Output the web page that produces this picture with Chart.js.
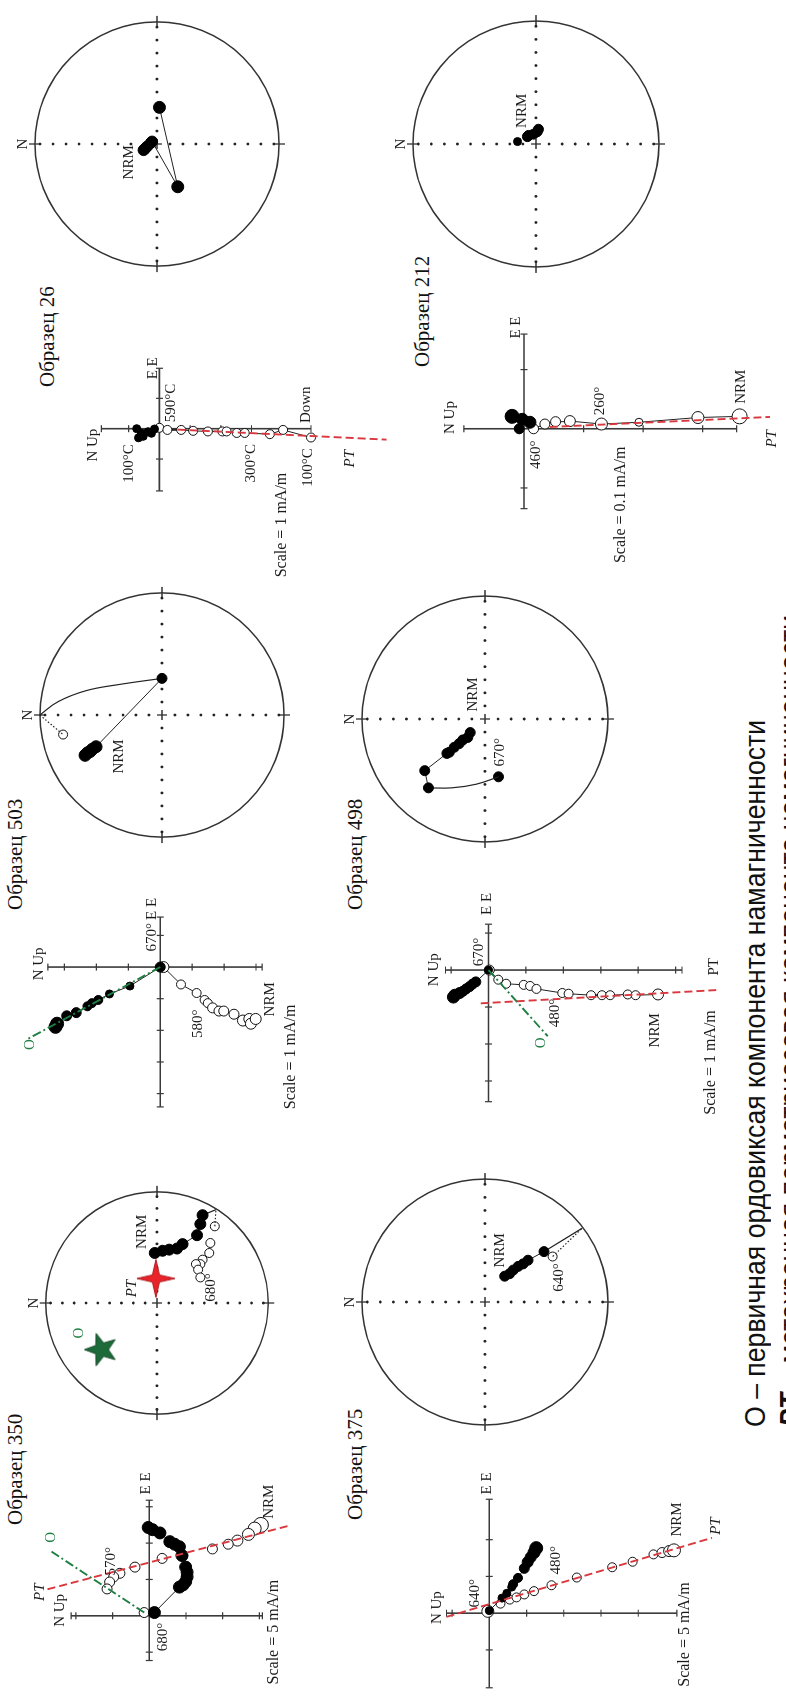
<!DOCTYPE html>
<html>
<head>
<meta charset="utf-8">
<script src="https://cdn.jsdelivr.net/npm/chart.js@4.4.0/dist/chart.umd.min.js"></script>
<style>
html, body { margin: 0; padding: 0; width: 786px; height: 1697px; overflow: hidden; background: #fff; }
#page { position: absolute; left: 0; top: 0; width: 1697px; height: 786px; overflow: hidden; background: #fff;
        transform-origin: 0 0; transform: translate(0, 1697px) rotate(-90deg); }
.title { position: absolute; font: 21px "Liberation Serif"; line-height: 21px; white-space: nowrap; color: #111; }
.cap { position: absolute; left: 270px; font: 30px "Liberation Sans"; line-height: 30px; white-space: nowrap; color: #111; transform-origin: 0 0; }
canvas { position: absolute; }
</style>
</head>
<body>
<div id="page">
  <div class="title" style="left:172px;top:5px">Образец 350</div>
  <div class="title" style="left:787px;top:5px">Образец 503</div>
  <div class="title" style="left:1310px;top:37px">Образец 26</div>
  <div class="title" style="left:177px;top:345px">Образец 375</div>
  <div class="title" style="left:787px;top:345px">Образец 498</div>
  <div class="title" style="left:1330px;top:412px">Образец 212</div>
  <div class="cap" id="cap1" style="top:740px">O – первичная ордовиксая компонента намагниченности</div>
  <div class="cap" id="cap2" style="top:775px"><b><i>PT</i></b> – метахронная пермотриасовая компонента намагниченности</div>
</div>
<script>
// ================= Data =================
// Zijderveld diagrams: [E, N/Up] in tick units; filled = horizontal, open = vertical projection

// ---------- Образец 350 ----------
const z350Filled = [[2.43,0.03],[2.37,-0.09],[2.28,-0.29],[2.04,-0.56],[1.97,-0.69],[1.9,-0.82],[1.66,-0.89],[1.34,-0.99],[1.2,-1.03],[1.07,-1.03],[0.94,-0.99],[0.85,-0.92],[0.79,-0.82],[0.09,-0.14]];
const z350Open = [[2.5,-3.04],[2.4,-2.87],[2.24,-2.7],[2.07,-2.4],[1.97,-2.15],[1.84,-1.72],[1.64,-0.91],[1.58,-0.35],[1.34,0.39],[1.17,0.8],[1.07,0.97],[0.93,1.08],[0.74,1.15],[0.09,0.14]];
const z350PT = [[0.73,2.77],[2.47,-3.77]];
const z350O = [[0.09,0.14],[1.81,2.73]];

// ---------- Образец 503 ----------
const z503Filled = [[0,0],[-0.6,0.95],[-0.85,1.59],[-1.04,1.94],[-1.14,2.14],[-1.24,2.28],[-1.44,2.63],[-1.54,2.93],[-1.79,3.23],[-1.89,3.28]];
const z503Open = [[0,-0.1],[-0.55,-0.65],[-0.82,-1.14],[-1.04,-1.39],[-1.14,-1.49],[-1.29,-1.64],[-1.39,-1.84],[-1.39,-1.99],[-1.49,-2.31],[-1.69,-2.59],[-1.64,-2.79],[-1.79,-2.84],[-1.64,-2.99]];
const z503O = [[0,0],[-2.29,4.18]];

// ---------- Образец 26 ----------
const z26Filled = [[-0.01,0.16],[-0.15,0.26],[-0.1,0.37],[-0.25,0.53],[-0.15,0.58],[-0.3,0.68],[0,0.74]];
const z26Open = [[0.03,0],[-0.04,-0.26],[-0.04,-0.71],[-0.07,-1.1],[-0.09,-1.58],[-0.09,-2.05],[-0.09,-2.19],[-0.14,-2.52],[-0.14,-2.78],[-0.18,-3.6],[-0.04,-4.03],[-0.29,-4.94]];
const z26PT = [[-0.03,-0.6],[-0.36,-7.4]];

// ---------- Образец 375 ----------
const z375Filled = [[0.07,0],[0.41,-0.34],[0.54,-0.47],[0.71,-0.6],[0.79,-0.64],[0.96,-0.77],[1.22,-0.94],[1.39,-1.03],[1.52,-1.11],[1.65,-1.2],[1.77,-1.26]];
const z375Open = [[0.05,0.04],[0.26,-0.3],[0.37,-0.55],[0.43,-0.73],[0.51,-0.94],[0.6,-1.2],[0.76,-1.67],[0.97,-2.35],[1.25,-3.3],[1.4,-3.85],[1.6,-4.41],[1.65,-4.64],[1.69,-4.83],[1.71,-4.96]];
const z375PT = [[-0.1,1.15],[2.05,-5.98]];

// ---------- Образец 498 ----------
const z498Filled = [[0,0],[-0.32,0.34],[-0.38,0.43],[-0.45,0.51],[-0.51,0.6],[-0.57,0.68],[-0.62,0.77],[-0.68,0.9],[-0.73,0.94]];
const z498Open = [[0,-0.02],[-0.26,-0.26],[-0.37,-0.47],[-0.4,-0.94],[-0.43,-1.11],[-0.51,-1.28],[-0.62,-1.97],[-0.64,-2.14],[-0.68,-2.74],[-0.68,-3.03],[-0.68,-3.25],[-0.66,-3.72],[-0.68,-3.93],[-0.66,-4.53]];
const z498PT = [[-0.9,0.21],[-0.54,-6.11]];
const z498O = [[0,0],[-1.79,-1.58]];

// ---------- Образец 212 ----------
const z212Filled = [[0.21,0.2],[0.16,0.03],[0.11,-0.1],[0,0.08]];
const z212Open = [[0.21,-3.62],[0.19,-2.92],[0.11,-1.93],[0.08,-1.3],[0.13,-0.77],[0.12,-0.53],[0.08,-0.35],[0,-0.16]];
const z212PT = [[0.03,-0.43],[0.2,-4.13]];

// Stereonets: equal-area projection, [E, N] with net radius = 1
const st350Filled = [[0.45,0.02],[0.47,-0.05],[0.48,-0.11],[0.49,-0.18],[0.53,-0.23],[0.61,-0.36],[0.71,-0.39],[0.79,-0.41]];
const st350Open = [[0.69,-0.52],[0.54,-0.48],[0.45,-0.47],[0.39,-0.41],[0.35,-0.39],[0.35,-0.35],[0.3,-0.37],[0.23,-0.39]];
const st350Edge = [0.84,-0.53];
const st350PT = [0.22,0.01];
const st350O = [-0.42,0.5];

const st503Nrm = [[-0.33,0.63],[-0.31,0.61],[-0.3,0.59],[-0.28,0.57],[-0.26,0.54],[0.3,0]];
const st503Arc = [[0.3,0],[0.25,0.35],[0.2,0.62],[0.11,0.85],[0,1]];
const st503Open = [-0.16,0.81];

const st26Filled = [[-0.05,0.11],[-0.04,0.1],[-0.02,0.08],[0.01,0.05],[0.02,0.04],[-0.35,-0.17],[0.3,-0.02]];

const st212Filled = [[0.02,0.15],[0.06,0.07],[0.07,0.06],[0.08,0.02],[0.1,-0.01],[0.12,-0.02]];

const st498Filled = [[-0.11,0.12],[-0.15,0.14],[-0.17,0.18],[-0.2,0.21],[-0.23,0.25],[-0.27,0.29],[-0.28,0.31],[-0.42,0.49],[-0.56,0.46]];
const st498Arc = [[-0.56,0.46],[-0.56,0.27],[-0.53,0.07],[-0.47,-0.11]];
const st498Last = [-0.47,-0.11];

const st375Filled = [[0.21,-0.16],[0.23,-0.2],[0.26,-0.23],[0.29,-0.27],[0.31,-0.31],[0.34,-0.35],[0.41,-0.48]];
const st375Open = [0.37,-0.55];
const st375Edge = [0.6,-0.79];

// ================= Helpers =================
const RED = '#d8383e', GREEN = '#1f7f43', INK = '#1a1a1a';
const page = document.getElementById('page');
const pts = a => a.map(p => ({ x: p[0], y: p[1] }));

function place(left, top, w, h) {
  const c = document.createElement('canvas');
  c.width = w; c.height = h;
  c.style.left = left + 'px'; c.style.top = top + 'px';
  c.style.width = w + 'px'; c.style.height = h + 'px';
  page.appendChild(c);
  return c;
}

const filled = (d, r, line = true) => ({ data: pts(d), showLine: line, borderColor: '#222', borderWidth: 1,
  pointRadius: r, pointBackgroundColor: '#000', pointBorderColor: '#000', pointBorderWidth: 1 });
const open = (d, r, line = false) => ({ data: pts(d), showLine: line, borderColor: '#222', borderWidth: 1,
  pointRadius: r, pointBackgroundColor: '#fff', pointBorderColor: '#111', pointBorderWidth: 1 });
const dash = (d, color, pattern, w = 1.9) => ({ data: pts(d), showLine: true, borderColor: color, borderWidth: w,
  borderDash: pattern, pointRadius: 0 });
const arc = (d, pattern = []) => ({ data: pts(d), showLine: true, borderColor: '#222', borderWidth: 1.2,
  borderDash: pattern, tension: 0.4, pointRadius: 0 });

function labelPlugin(list) {
  return {
    id: 'labels',
    afterDatasetsDraw(chart) {
      const { ctx, scales: { x, y } } = chart;
      ctx.save();
      list.forEach(([text, u, v, st = {}]) => {
        ctx.font = (st.italic ? 'italic ' : '') + (st.size || 15) + 'px "Liberation Serif"';
        ctx.fillStyle = st.color || INK;
        ctx.textAlign = st.align || 'center';
        ctx.textBaseline = 'middle';
        ctx.fillText(text, x.getPixelForValue(u), y.getPixelForValue(v));
      });
      ctx.restore();
    }
  };
}

function axesPlugin(ax) {
  return {
    id: 'zaxes',
    beforeDatasetsDraw(chart) {
      const { ctx, scales: { x, y } } = chart;
      const X = v => x.getPixelForValue(v), Y = v => y.getPixelForValue(v);
      ctx.save();
      ctx.strokeStyle = '#3a3a3a'; ctx.lineWidth = 1.6;
      ctx.beginPath();
      ctx.moveTo(X(ax.h[0]), Y(0)); ctx.lineTo(X(ax.h[1]), Y(0));
      ctx.moveTo(X(0), Y(ax.v[0])); ctx.lineTo(X(0), Y(ax.v[1]));
      ctx.stroke();
      ctx.lineWidth = 1.2;
      ctx.beginPath();
      ax.h.concat(ax.ht).forEach(t => { ctx.moveTo(X(t), Y(0) - 3.5); ctx.lineTo(X(t), Y(0) + 3.5); });
      ax.v.concat(ax.vt).forEach(t => { ctx.moveTo(X(0) - 3.5, Y(t)); ctx.lineTo(X(0) + 3.5, Y(t)); });
      ctx.stroke();
      ctx.restore();
    }
  };
}

const netPlugin = {
  id: 'net',
  beforeDatasetsDraw(chart) {
    const { ctx, scales: { x, y } } = chart;
    const cx = x.getPixelForValue(0), cy = y.getPixelForValue(0);
    const r = x.getPixelForValue(1) - cx;
    ctx.save();
    ctx.strokeStyle = '#333'; ctx.lineWidth = 1.5;
    ctx.beginPath(); ctx.arc(cx, cy, r, 0, 2 * Math.PI); ctx.stroke();
    ctx.lineWidth = 1.3;
    ctx.beginPath();
    ctx.moveTo(cx, cy - r - 6); ctx.lineTo(cx, cy - r + 6);
    ctx.moveTo(cx, cy + r - 6); ctx.lineTo(cx, cy + r + 6);
    ctx.moveTo(cx - r - 6, cy); ctx.lineTo(cx - r + 6, cy);
    ctx.moveTo(cx + r - 6, cy); ctx.lineTo(cx + r + 6, cy);
    ctx.moveTo(cx - 5, cy); ctx.lineTo(cx + 5, cy);
    ctx.moveTo(cx, cy - 5); ctx.lineTo(cx, cy + 5);
    ctx.stroke();
    ctx.fillStyle = '#222';
    for (let k = 1; k <= 9; k++) {
      const d = k * r / 9.4;
      [[d, 0], [-d, 0], [0, d], [0, -d]].forEach(([dx, dy]) => {
        ctx.beginPath(); ctx.arc(cx + dx, cy + dy, 1.4, 0, 2 * Math.PI); ctx.fill();
      });
    }
    ctx.font = '15px "Liberation Serif"';
    ctx.fillStyle = INK; ctx.textAlign = 'center'; ctx.textBaseline = 'middle';
    ctx.fillText('N', cx, cy - r - 12);
    ctx.restore();
  }
};

function baseOptions(xmin, xmax, ymin, ymax) {
  return {
    responsive: false, animation: false, events: [],
    layout: { padding: 0 },
    plugins: { legend: { display: false }, tooltip: { enabled: false } },
    scales: {
      x: { type: 'linear', display: false, min: xmin, max: xmax },
      y: { type: 'linear', display: false, min: ymin, max: ymax }
    }
  };
}

function zijd(g, axes, sets, labels) {
  const c = place(g.left, g.top, g.w, g.h);
  new Chart(c, {
    type: 'scatter',
    data: { datasets: sets },
    options: baseOptions((g.left - g.ox) / g.unit, (g.left + g.w - g.ox) / g.unit,
                         (g.oy - g.top - g.h) / g.unit, (g.oy - g.top) / g.unit),
    plugins: [axesPlugin(axes), labelPlugin(labels)]
  });
}

function stereo(cx, cy, sets, labels) {
  const R = 128, half = 152;
  const c = place(cx - half, cy - half, 2 * half, 2 * half);
  new Chart(c, {
    type: 'scatter',
    data: { datasets: sets },
    options: baseOptions(-half / R, half / R, -half / R, half / R),
    plugins: [netPlugin, labelPlugin(labels)]
  });
}

function star(n, outer, inner, fill, stroke) {
  const s = Math.ceil(outer * 2 + 4);
  const c = document.createElement('canvas');
  c.width = c.height = s;
  const g = c.getContext('2d');
  g.beginPath();
  for (let i = 0; i < 2 * n; i++) {
    const r = i % 2 ? inner : outer;
    const a = -Math.PI / 2 + i * Math.PI / n;
    g.lineTo(s / 2 + r * Math.cos(a), s / 2 + r * Math.sin(a));
  }
  g.closePath();
  g.fillStyle = fill; g.fill();
  g.strokeStyle = stroke; g.lineWidth = 1; g.stroke();
  return c;
}

// ================= Zijderveld diagrams =================
zijd({ left: 0, top: 25, w: 250, h: 290, ox: 78, oy: 148, unit: 39 },
  { h: [-1.23, 3.18], v: [-3.08, 2.13], ht: [-1, 1, 2, 3], vt: [-3, -2, -1, 1, 2] },
  [dash(z350PT, RED, [8, 4]), dash(z350O, GREEN, [9, 3, 2, 3]),
   filled(z350Filled, 6), open(z350Open, [7.5, 6.5, 6, 5.5, 5, 5, 5, 5, 5, 5, 5, 5, 5, 5])],
  [['N Up', 0.15, 2.44], ['E E', 3.64, 0.08], ['NRM', 3.14, -3.26], ['570°', 1.5, 1.04],
   ['680°', -0.58, -0.38], ['PT', 0.65, 2.98, { italic: true }], ['O', 2.16, 2.68, { color: GREEN }],
   ['Scale = 5 mA/m', -0.45, -3.38, { size: 16 }]]);

zijd({ left: 560, top: 5, w: 270, h: 320, ox: 732, oy: 160, unit: 33.5 },
  { h: [-4.42, 1.58], v: [-3.19, 3.52], ht: [-4, -3, -2, -1, 1], vt: [-3, -2, -1, 1, 2, 3] },
  [dash(z503O, GREEN, [9, 3, 2, 3]),
   filled(z503Filled, [5, 4, 4, 4.5, 4.5, 4.5, 5, 5, 6.5, 6.5]),
   open(z503Open, [5.5, 4.5, 4.5, 4.5, 4.5, 5, 5, 5, 5, 5.5, 5.5, 5.5, 5.5], true)],
  [['N Up', 0.1, 3.78], ['E E', 1.84, 0.25], ['670°', 0.94, 0.25], ['580°', -1.79, -1.19],
   ['NRM', -1.02, -3.43], ['O', -2.45, 4.08, { color: GREEN }], ['Scale = 1 mA/m', -2.84, -4.09, { size: 16 }]]);

zijd({ left: 1100, top: 60, w: 260, h: 345, ox: 1270, oy: 157, unit: 31.7 },
  { h: [-2.05, 1.99], v: [-4.94, 1.89], ht: [-1, 1], vt: [1, -1, -2, -3, -4] },
  [dash(z26PT, RED, [8, 4]), filled(z26Filled, 4), open(z26Open, 4.5, true)],
  [['N Up', -0.54, 2.16], ['E E', 1.99, 0.22], ['590°C', 0.85, -0.37], ['100°C', -1.15, 1.0],
   ['300°C', -1.14, -3.0], ['Down', 0.79, -4.78], ['100°C', -1.28, -4.84], ['PT', -0.99, -6.2, { italic: true }],
   ['Scale = 1 mA/m', -1.45, -3.99, { align: 'right', size: 16 }]]);

zijd({ left: 0, top: 415, w: 260, h: 330, ox: 81, oy: 485, unit: 39 },
  { h: [-2.03, 3.1], v: [-5.04, 1.15], ht: [-1, 1, 2], vt: [1, -1, -2, -3, -4] },
  [dash(z375PT, RED, [8, 4]),
   filled(z375Filled, [4, 4, 4, 4, 4.5, 4.5, 5, 5.5, 5.5, 6, 6.5]),
   open(z375Open, [6, 4.5, 4.5, 4.5, 4.5, 4.5, 4.5, 4.5, 4.5, 4.5, 4.5, 5, 5.5, 6.5])],
  [['N Up', 0.15, 1.41], ['E E', 3.53, 0.05], ['640°', 0.54, 0.38], ['480°', 1.44, -1.79],
   ['NRM', 2.55, -5.05], ['PT', 2.37, -6.08, { italic: true }], ['Scale = 5 mA/m', -0.58, -5.26, { size: 16 }]]);

zijd({ left: 560, top: 400, w: 270, h: 345, ox: 728.7, oy: 485, unit: 39 },
  { h: [-3.56, 1.24], v: [-5.17, 1.15], ht: [-3, -2, -1, 1], vt: [1, -1, -2, -3, -4, -5] },
  [dash(z498PT, RED, [8, 4]), dash(z498O, GREEN, [9, 3, 2, 3]),
   filled(z498Filled, [4, 5, 5, 5, 5, 5, 5.5, 6, 6]),
   open(z498Open, [5, 4.5, 4.5, 4.5, 4.5, 4.5, 4.5, 4.5, 4.5, 4.5, 4.5, 4.5, 4.5, 5.5], true)],
  [['N Up', 0.01, 1.46], ['E E', 1.79, 0.05], ['670°', 0.49, 0.26], ['PT', 0.09, -6.03],
   ['480°', -1.16, -1.79], ['O', -1.97, -1.41, { color: GREEN }], ['NRM', -1.63, -4.44],
   ['Scale = 1 mA/m', -2.5, -5.95, { size: 16 }]]);

zijd({ left: 1100, top: 425, w: 320, h: 361, ox: 1268.7, oy: 520, unit: 62.5 },
  { h: [-1.35, 1.6], v: [-3.57, 1.01], ht: [-1, 1], vt: [-1, -2, -3] },
  [dash(z212PT, RED, [8, 4]), filled(z212Filled, [7, 6, 6, 5], false),
   open(z212Open, [7.5, 6, 4, 6, 5.5, 5, 5, 5], true)],
  [['N Up', 0.19, 1.25], ['E E', 1.71, 0.13], ['NRM', 0.71, -3.65], ['PT', -0.17, -4.16, { italic: true }],
   ['260°', 0.47, -1.28], ['460°', -0.44, -0.21], ['Scale = 0.1 mA/m', -0.3, -1.63, { align: 'right', size: 16 }]]);

// ================= Stereonets =================
stereo(394, 157,
  [{ data: pts([st350PT]), pointStyle: star(4, 19, 5, '#e8242a', '#b01a1f'), pointRadius: 19 },
   { data: pts([st350O]), pointStyle: star(5, 17, 7, '#1e6b3a', '#134a27'), pointRadius: 17 },
   filled(st350Filled, 5.5),
   arc([st350Filled[st350Filled.length - 1], st350Edge]),
   arc([st350Open[0], st350Edge], [1.5, 2]),
   open(st350Open, 4.5)],
  [['NRM', 0.64, 0.13], ['PT', 0.13, 0.22, { italic: true }], ['680°', 0.14, -0.49], ['O', -0.27, 0.7, { color: GREEN }]]);

stereo(982, 162,
  [filled(st503Nrm, [6, 6, 6, 6, 6, 5]),
   arc(st503Arc),
   arc([[0, 1], st503Open], [1.5, 2]),
   open([st503Open], 4.5)],
  [['NRM', -0.34, 0.35]]);

stereo(1553, 157,
  [filled(st26Filled, [5.5, 5.5, 5.5, 5.5, 5.5, 6, 6])],
  [['NRM', -0.15, 0.23]]);

stereo(395, 485,
  [filled(st375Filled, 5),
   arc([st375Filled[st375Filled.length - 1], st375Edge]),
   arc([st375Open, st375Edge], [1.5, 2]),
   open([st375Open], 4.5)],
  [['NRM', 0.42, -0.12], ['640°', 0.2, -0.6]]);

stereo(978, 485,
  [filled(st498Filled, 5),
   arc(st498Arc),
   filled([st498Last], 5, false)],
  [['NRM', 0.2, 0.1], ['670°', -0.27, -0.12]]);

stereo(1553, 536,
  [filled(st212Filled, [4, 5, 5, 5, 5, 5], false)],
  [['NRM', 0.27, 0.11]]);

// ---------- Caption width ----------
const cap1 = document.getElementById('cap1');
const cap2 = document.getElementById('cap2');
const k = 707 / cap1.offsetWidth;
cap1.style.transform = cap2.style.transform = 'scaleX(' + k + ')';
</script>
</body>
</html>
